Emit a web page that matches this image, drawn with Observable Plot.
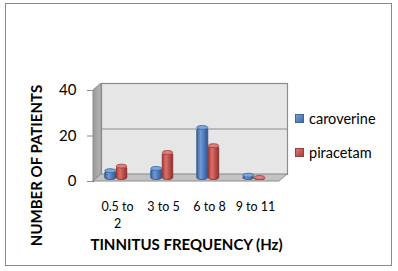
<!DOCTYPE html>
<html>
<head>
<meta charset="utf-8">
<script src="https://cdn.jsdelivr.net/npm/d3@7"></script>
<script src="https://cdn.jsdelivr.net/npm/@observablehq/plot@0.6"></script>
<style>
  body { margin: 0; background: #fff; }
  #wrap { position: relative; width: 398px; height: 271px; font-family: Lato, "Noto Sans", sans-serif; }
  #border { position: absolute; left: 5px; top: 3px; width: 385px; height: 261px; border: 1px solid #8a8a8a; pointer-events: none; }
  #chart svg { display: block; }
  g[aria-label^="y-axis"] line, g[aria-label^="y-axis"] path { stroke: #8c8c8c; }
  .legend { position: absolute; left: 295px; font-size: 14.5px; color: #000; display: flex; align-items: center; }
  .legend .sw { width: 9px; height: 9px; margin-right: 5px; }
</style>
</head>
<body>
<svg width="0" height="0" style="position:absolute">
  <defs>
    <linearGradient id="gBlue" x1="0" x2="1" y1="0" y2="0">
      <stop offset="0" stop-color="#3a62a0"/>
      <stop offset="0.35" stop-color="#6f9ad6"/>
      <stop offset="1" stop-color="#2f5592"/>
    </linearGradient>
    <linearGradient id="gRed" x1="0" x2="1" y1="0" y2="0">
      <stop offset="0" stop-color="#a33b38"/>
      <stop offset="0.35" stop-color="#de6f6b"/>
      <stop offset="1" stop-color="#922f2d"/>
    </linearGradient>
    <linearGradient id="gSide" x1="0" x2="1" y1="0" y2="0">
      <stop offset="0" stop-color="#9a9a9a"/>
      <stop offset="1" stop-color="#b4b4b4"/>
    </linearGradient>
    <linearGradient id="gSwB" x1="0" x2="1" y1="0" y2="1">
      <stop offset="0" stop-color="#7aa3dc"/>
      <stop offset="1" stop-color="#3c66a4"/>
    </linearGradient>
    <linearGradient id="gSwR" x1="0" x2="1" y1="0" y2="1">
      <stop offset="0" stop-color="#e07c78"/>
      <stop offset="1" stop-color="#a53c39"/>
    </linearGradient>
  </defs>
</svg>
<div id="wrap">
  <div id="chart"></div>
  <div id="border"></div>
  <div class="legend" style="top:110px"><svg class="sw" viewBox="0 0 10 10" width="10" height="10"><rect x="0.5" y="0.5" width="9" height="9" fill="url(#gSwB)" stroke="#385d8a"/></svg>caroverine</div>
  <div class="legend" style="top:144px"><svg class="sw" viewBox="0 0 10 10" width="10" height="10"><rect x="0.5" y="0.5" width="9" height="9" fill="url(#gSwR)" stroke="#8c3836"/></svg>piracetam</div>
</div>
<script>
const categories = ["0.5 to 2", "3 to 5", "6 to 8", "9 to 11"];
const tickLabels = ["0.5 to\n2", "3 to 5", "6 to 8", "9 to 11"];
const caroverine = [3, 4, 22, 1];
const piracetam = [5, 11, 14, 0];
const yTicks = [0, 20, 40];
const xTitle = "TINNITUS FREQUENCY (Hz)";
const yTitle = "NUMBER OF PATIENTS";

const car = categories.map((c, i) => ({category: c, series: "caroverine", value: caroverine[i]}));
const pir = categories.map((c, i) => ({category: c, series: "piracetam", value: piracetam[i]}));

const DX = 8, DY = -7;

function walls(index, scales, values, dims) {
  const y = scales.y;
  const x0 = dims.marginLeft, x1 = dims.width - dims.marginRight;
  const yb = y(yTicks[0]), yt = y(yTicks[yTicks.length - 1]);
  const g = d3.create("svg:g");
  g.append("path")
    .attr("d", `M${x0},${yb}L${x0},${yt}L${x0 + DX},${yt + DY}L${x0 + DX},${yb + DY}Z`)
    .attr("fill", "url(#gSide)").attr("stroke", "#8c8c8c").attr("stroke-width", 1);
  g.append("path")
    .attr("d", `M${x0},${yb}L${x1},${yb}L${x1 + DX},${yb + DY}L${x0 + DX},${yb + DY}Z`)
    .attr("fill", "#c3c3c3").attr("stroke", "#8c8c8c").attr("stroke-width", 1);
  return g.node();
}

const barCommon = {x: "category", rx: 5.5, ry: 2, dy: -3.5, strokeWidth: 0.8};
const carInset = {insetLeft: 10.75, insetRight: 24.25};
const pirInset = {insetLeft: 22.25, insetRight: 13.25};

const plot = Plot.plot({
  width: 398,
  height: 271,
  marginLeft: 93,
  marginRight: 119,
  marginTop: 90,
  marginBottom: 90,
  style: {fontFamily: "Lato, 'Noto Sans', sans-serif", fontSize: "15px", color: "#000", background: "transparent"},
  x: {domain: categories, padding: 0, axis: null},
  y: {domain: [yTicks[0], yTicks[yTicks.length - 1]], ticks: yTicks.length - 1, tickSize: 6, tickPadding: 11, line: true, label: null},
  marks: [
    Plot.frame({fill: "#e6e6e6", stroke: "#8c8c8c", strokeWidth: 1.2, insetLeft: DX, insetRight: -DX, insetTop: DY, insetBottom: -DY}),
    walls,
    Plot.ruleY(yTicks.slice(1, -1), {dx: DX, dy: DY, stroke: "#8c8c8c", strokeWidth: 1.2}),
    Plot.barY(car, {...barCommon, ...carInset, y1: 0, y2: "value", insetBottom: -2, fill: "url(#gBlue)", stroke: "#2c4f80"}),
    Plot.barY(car, {...barCommon, ...carInset, y1: "value", y2: "value", insetTop: -2, insetBottom: -2, fill: "#7da4dc", stroke: "#3a64a0"}),
    Plot.barY(pir, {...barCommon, ...pirInset, y1: 0, y2: "value", insetBottom: -2, fill: "url(#gRed)", stroke: "#7e2b29"}),
    Plot.barY(pir, {...barCommon, ...pirInset, y1: "value", y2: "value", insetTop: -2, insetBottom: -2, fill: "#e07f7c", stroke: "#9a3a37"}),
    Plot.text(categories, {x: d => d, text: (d, i) => tickLabels[i], frameAnchor: "bottom", lineAnchor: "top", dy: 18, lineHeight: 1.35, fontSize: 12.5, fill: "#000"}),
    Plot.text([xTitle], {frameAnchor: "bottom", dy: 68, fontWeight: "bold", fontSize: 15, fill: "#000"}),
    Plot.text([yTitle], {frameAnchor: "left", textAnchor: "middle", rotate: -90, dx: -56, dy: 29.5, fontWeight: "bold", fontSize: 15, fill: "#000"})
  ]
});
document.getElementById("chart").append(plot);
</script>
</body>
</html>
